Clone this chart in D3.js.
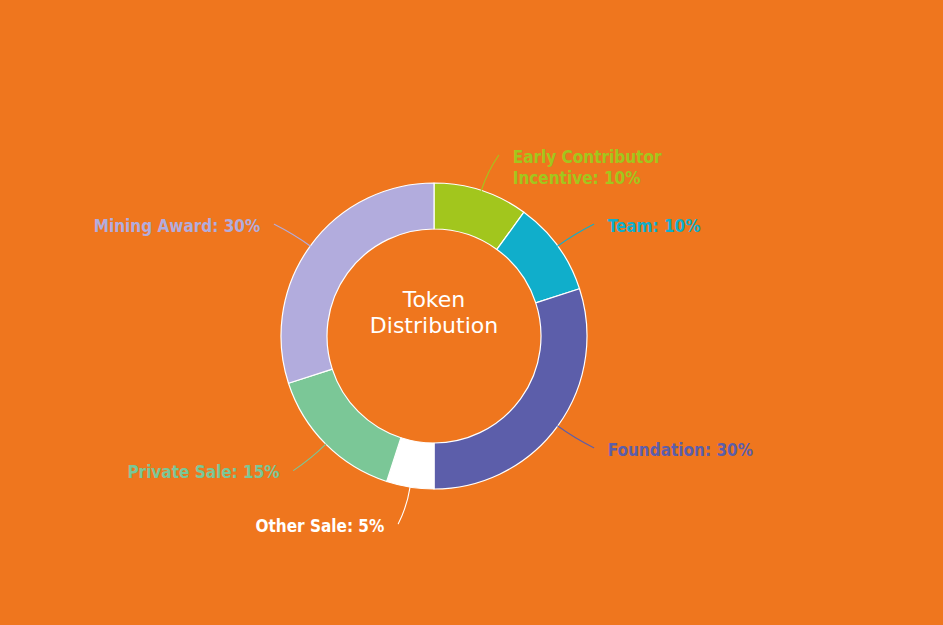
<!DOCTYPE html>
<html><head><meta charset="utf-8">
<script src="https://cdn.jsdelivr.net/npm/d3@7/dist/d3.min.js"></script>
<style>
html,body{margin:0;padding:0;background:#ef761e;}
svg{display:block;}
</style></head>
<body>
<svg id="chart" width="943" height="625"></svg>
<script>
const categories = ["Early Contributor Incentive", "Team", "Foundation", "Other Sale", "Private Sale", "Mining Award"];
const values = [10, 10, 30, 5, 15, 30];
const colors = ["#a2c61d", "#10aecb", "#5c5eaa", "#ffffff", "#7bc797", "#b2acdd"];
const labelLines = [["Early Contributor", "Incentive: 10%"], ["Team: 10%"], ["Foundation: 30%"], ["Other Sale: 5%"], ["Private Sale: 15%"], ["Mining Award: 30%"]];
const centerTitle = ["Token", "Distribution"];

const W = 943, H = 625;
const cx = 434, cy = 336, rOuter = 153, rInner = 107, rLabel = 190;
const svg = d3.select("#chart");
svg.append("rect").attr("width", W).attr("height", H).attr("fill", "#ef761e");

const data = categories.map((c, i) => ({name: c, value: values[i], color: colors[i], lines: labelLines[i]}));
const pie = d3.pie().value(d => d.value).sort(null);
const arcs = pie(data);
const arc = d3.arc().innerRadius(rInner).outerRadius(rOuter);

const g = svg.append("g").attr("transform", `translate(${cx},${cy})`);
g.selectAll("path.slice").data(arcs).join("path")
  .attr("class", "slice")
  .attr("d", arc)
  .attr("fill", d => d.data.color)
  .attr("stroke", "#ffffff")
  .attr("stroke-width", 1.2)
  .attr("stroke-linejoin", "round");

function polar(r, a) { return [r * Math.sin(a), -r * Math.cos(a)]; }

const labelFont = "'DejaVu Sans Condensed', 'DejaVu Sans', sans-serif";
arcs.forEach(d => {
  const mid = (d.startAngle + d.endAngle) / 2;
  const right = Math.sin(mid) >= 0;
  const sg = right ? 1 : -1;
  const s = polar(rOuter, mid);
  const p = polar(rLabel, mid);
  const e = [p[0] + sg * 6, p[1]];
  const c1 = polar(rOuter + 20, mid);
  g.append("path")
    .attr("d", `M${s[0]},${s[1]} Q${c1[0]},${c1[1]} ${e[0]},${e[1]}`)
    .attr("fill", "none")
    .attr("stroke", d.data.color)
    .attr("stroke-width", 1.1)
    .attr("stroke-linecap", "round");
  const tx = p[0] + sg * 20;
  const t = g.append("text")
    .attr("x", tx)
    .attr("y", p[1] + 8)
    .attr("text-anchor", right ? "start" : "end")
    .attr("fill", d.data.color)
    .attr("font-family", labelFont)
    .attr("font-weight", "bold")
    .attr("font-size", 17);
  d.data.lines.forEach((ln, i) => {
    t.append("tspan").attr("x", tx).attr("dy", i === 0 ? 0 : 21).text(ln);
  });
});

const ct = g.append("text")
  .attr("text-anchor", "middle")
  .attr("fill", "#ffffff")
  .attr("font-family", "'DejaVu Sans', sans-serif")
  .attr("font-size", 22);
centerTitle.forEach((ln, i) => {
  ct.append("tspan").attr("x", 0).attr("y", -29 + i * 26).text(ln);
});
</script>
</body></html>
